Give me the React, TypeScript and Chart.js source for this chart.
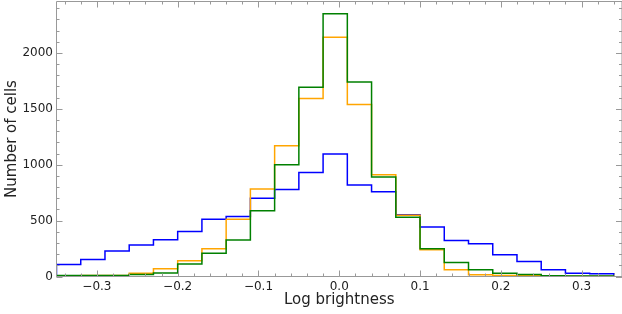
import React, { useEffect, useRef } from "react";
import { Chart, registerables } from "chart.js";

Chart.register(...registerables);

// Histogram bin edges (log brightness)
const binEdges = [
  -0.35, -0.32, -0.29, -0.26, -0.23, -0.2, -0.17, -0.14, -0.11, -0.08, -0.05, -0.02,
  0.01, 0.04, 0.07, 0.1, 0.13, 0.16, 0.19, 0.22, 0.25, 0.28, 0.31, 0.34,
];

// Counts per bin
const blueCounts = [
  107, 152, 227, 281, 328, 402, 513, 537, 701, 778, 930, 1095,
  818, 758, 552, 442, 322, 293, 194, 134, 60, 30, 24,
];
const orangeCounts = [
  6, 8, 10, 28, 69, 140, 248, 512, 782, 1169, 1592, 2141,
  1538, 910, 549, 239, 60, 15, 9, 6, 4, 2, 2,
];
const greenCounts = [
  8, 10, 10, 18, 32, 111, 209, 326, 588, 999, 1694, 2350,
  1739, 889, 531, 248, 125, 60, 30, 18, 6, 4, 4,
];

const xTicks = [-0.3, -0.2, -0.1, 0.0, 0.1, 0.2, 0.3];
const xTickLabels = ["\u22120.3", "\u22120.2", "\u22120.1", "0.0", "0.1", "0.2", "0.3"];
const yTicks = [0, 500, 1000, 1500, 2000];
const yTickLabels = ["0", "500", "1000", "1500", "2000"];

const X_MIN = -0.35;
const X_MAX = 0.35;
const Y_MIN = 0;
const Y_MAX = 2460;
const X_MINOR_STEP = 0.02;
const Y_MINOR_STEP = 100;

function stepPoints(counts: number[]) {
  const pts: { x: number; y: number }[] = [{ x: binEdges[0], y: 0 }];
  counts.forEach((c, i) => pts.push({ x: binEdges[i], y: c }));
  pts.push({ x: binEdges[binEdges.length - 1], y: counts[counts.length - 1] });
  pts.push({ x: binEdges[binEdges.length - 1], y: 0 });
  return pts;
}

const frameColor = "#999999";

const framePlugin = {
  id: "frameTicks",
  afterDatasetsDraw(chart: any) {
    const { ctx, chartArea } = chart;
    const xs = chart.scales.x;
    const ys = chart.scales.y;
    const { left, right, top, bottom } = chartArea;
    ctx.save();
    ctx.strokeStyle = frameColor;
    ctx.lineWidth = 1;
    ctx.beginPath();
    ctx.moveTo(left, top);
    ctx.lineTo(right, top);
    ctx.moveTo(left, bottom);
    ctx.lineTo(right, bottom);
    ctx.moveTo(left, top);
    ctx.lineTo(left, bottom);
    ctx.moveTo(right, top);
    ctx.lineTo(right, bottom);
    ctx.stroke();

    const majorLen = 6;
    const minorLen = 3;
    ctx.beginPath();
    const nx0 = Math.ceil((X_MIN + 1e-9) / X_MINOR_STEP);
    const nx1 = Math.floor((X_MAX - 1e-9) / X_MINOR_STEP);
    for (let n = nx0; n <= nx1; n++) {
      const v = n * X_MINOR_STEP;
      const isMajor = xTicks.some((t) => Math.abs(t - v) < 1e-6);
      const len = isMajor ? majorLen : minorLen;
      const px = Math.round(xs.getPixelForValue(v)) + 0.5;
      ctx.moveTo(px, bottom);
      ctx.lineTo(px, bottom - len);
      ctx.moveTo(px, top);
      ctx.lineTo(px, top + len);
    }
    for (let v = Y_MIN; v <= Y_MAX; v += Y_MINOR_STEP) {
      const isMajor = yTicks.includes(v);
      const len = isMajor ? majorLen : minorLen;
      const py = Math.round(ys.getPixelForValue(v)) + 0.5;
      ctx.moveTo(left, py);
      ctx.lineTo(left + len, py);
      ctx.moveTo(right, py);
      ctx.lineTo(right - len, py);
    }
    ctx.stroke();
    ctx.restore();
  },
};

export default function App() {
  const canvasRef = useRef<HTMLCanvasElement | null>(null);

  useEffect(() => {
    if (!canvasRef.current) return;
    Chart.defaults.font.family = "'DejaVu Sans', sans-serif";
    const common = {
      borderWidth: 1.5,
      stepped: "before" as const,
      pointRadius: 0,
      fill: false,
    };
    const chart = new Chart(canvasRef.current, {
      type: "line",
      data: {
        datasets: [
          { label: "blue", data: stepPoints(blueCounts), borderColor: "#0000ff", order: 3, ...common },
          { label: "orange", data: stepPoints(orangeCounts), borderColor: "#ffa500", order: 2, ...common },
          { label: "green", data: stepPoints(greenCounts), borderColor: "#008000", order: 1, ...common },
        ],
      },
      options: {
        animation: false,
        responsive: false,
        layout: { padding: { top: 1.5, right: 0, left: 0, bottom: 0 } },
        plugins: {
          legend: { display: false },
          tooltip: { enabled: false },
        },
        scales: {
          x: {
            type: "linear",
            min: X_MIN,
            max: X_MAX,
            afterBuildTicks: (scale: any) => {
              scale.ticks = xTicks.map((v) => ({ value: v }));
            },
            afterFit: (scale: any) => {
              scale.height = 37.5;
              scale.paddingLeft = 0;
              scale.paddingRight = 0;
            },
            ticks: {
              autoSkip: false,
              maxRotation: 0,
              padding: 3,
              color: "#222222",
              font: { size: 12 },
              callback: (v: any) => {
                const i = xTicks.findIndex((t) => Math.abs(t - Number(v)) < 1e-6);
                return i >= 0 ? xTickLabels[i] : "";
              },
            },
            grid: { display: false, drawTicks: false },
            border: { display: false },
            title: {
              display: true,
              text: "Log brightness",
              color: "#222222",
              font: { size: 15 },
              padding: { top: 0, bottom: 5 },
            },
          },
          y: {
            type: "linear",
            min: Y_MIN,
            max: Y_MAX,
            afterBuildTicks: (scale: any) => {
              scale.ticks = yTicks.map((v) => ({ value: v }));
            },
            afterFit: (scale: any) => {
              scale.width = 56.5;
              scale.paddingTop = 0;
              scale.paddingBottom = 0;
            },
            ticks: {
              autoSkip: false,
              padding: 3.5,
              color: "#222222",
              font: { size: 12 },
              callback: (v: any) => {
                const i = yTicks.indexOf(Number(v));
                return i >= 0 ? yTickLabels[i] : "";
              },
            },
            grid: { display: false, drawTicks: false },
            border: { display: false },
            title: {
              display: true,
              text: "Number of cells",
              color: "#222222",
              font: { size: 15 },
              padding: { top: 3.5, bottom: 0 },
            },
          },
        },
      },
      plugins: [framePlugin],
    });
    return () => chart.destroy();
  }, []);

  return (
    <div style={{ position: "absolute", left: 0, top: 0, width: 622, height: 314, overflow: "hidden", background: "#fff" }}>
      <canvas ref={canvasRef} width={622} height={314} style={{ display: "block" }} />
    </div>
  );
}
